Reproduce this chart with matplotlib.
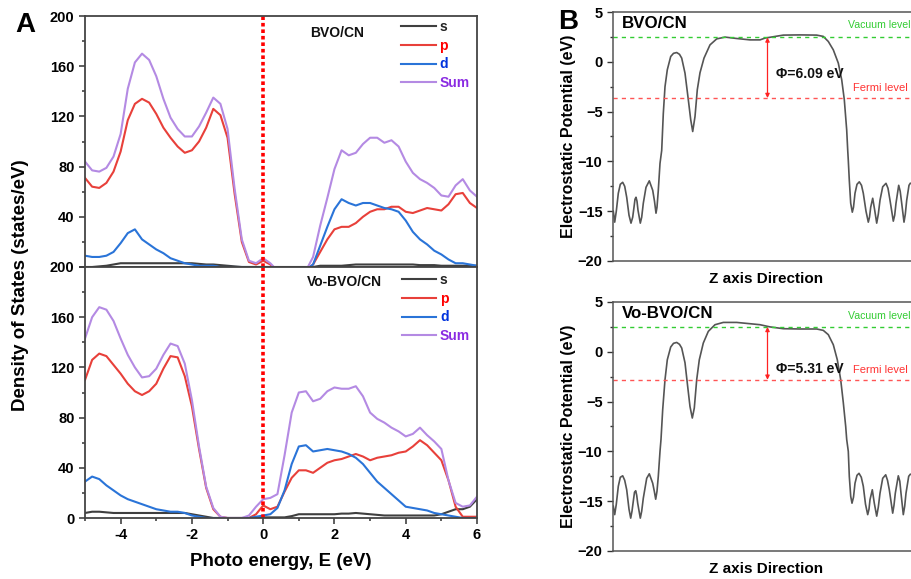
import matplotlib
matplotlib.use("Agg")
import matplotlib.pyplot as plt
from matplotlib.ticker import MultipleLocator, NullLocator

plt.rcParams['font.family'] = ['Liberation Sans', 'DejaVu Sans']
plt.rcParams['lines.solid_joinstyle'] = 'round'

# ---------------- Panel A data (DOS) ----------------
energy = [-5.0, -4.8, -4.6, -4.4, -4.2, -4.0, -3.8, -3.6, -3.4, -3.2, -3.0, -2.8, -2.6, -2.4,
          -2.2, -2.0, -1.8, -1.6, -1.4, -1.2, -1.0, -0.8, -0.6, -0.4, -0.2, 0.0, 0.2, 0.4,
          0.6, 0.8, 1.0, 1.2, 1.4, 1.6, 1.8, 2.0, 2.2, 2.4, 2.6, 2.8, 3.0, 3.2, 3.4, 3.6,
          3.8, 4.0, 4.2, 4.4, 4.6, 4.8, 5.0, 5.2, 5.4, 5.6, 5.8, 6.0]

bvo_s = [0, 0, 0.5, 1, 2, 3, 3, 3, 3, 3, 3, 3, 3, 3, 3, 3, 2.5, 2, 2, 1.5, 1, 0.5, 0, 0, 0, 0, 0, 0,
         0, 0, 0, 0, 0, 1, 1, 1, 1, 1.5, 2, 2, 2, 2, 2, 2, 2, 2, 2, 1.5, 1.5, 1.5, 1, 1, 1, 1, 1, 1]
bvo_p = [71, 64, 63, 67, 76, 92, 117, 130, 134, 131, 122, 111, 103, 96, 91, 93, 100, 111, 126, 121,
         103, 58, 20, 4, 2, 5, 2, -3, -5, -5, -5, -3, 2, 12, 22, 30, 32, 32, 35, 40, 44, 46, 46, 48,
         48, 44, 43, 45, 47, 46, 45, 50, 58, 59, 51, 47]
bvo_d = [9, 8, 8, 9, 12, 19, 27, 30, 22, 18, 14, 11, 7, 5, 3, 2, 1, 1, 1, 0, 0, 0, 0, 0, 0, 0, 0, -2,
         -3, -3, -3, -2, 2, 17, 32, 46, 54, 51, 49, 51, 51, 49, 47, 46, 44, 37, 28, 22, 18, 13, 10, 6,
         3, 3, 2, 1]
bvo_sum = [84, 77, 76, 79, 88, 106, 142, 163, 170, 165, 152, 134, 119, 110, 104, 104, 112, 123, 135,
           130, 110, 62, 22, 5, 3, 7, 3, -3, -5, -5, -5, -3, 8, 33, 55, 78, 93, 89, 91, 98, 103, 103,
           99, 101, 96, 84, 75, 70, 67, 63, 57, 56, 65, 70, 61, 56]

vo_s = [4, 5, 5, 4.5, 4, 4, 4, 4, 4, 4, 4, 4, 4, 4, 4, 3, 2, 1, 0, 0, 0, 0, 0, 0, 0, 0.5, 0.5, 0.5,
        0.5, 1.5, 3, 3, 3, 3, 3, 3, 3.5, 3.5, 4, 3.5, 3, 2.5, 2, 2, 2, 2, 2, 2, 2, 2, 3, 5, 7, 7, 9, 15]
vo_p = [110, 126, 131, 129, 122, 115, 107, 101, 98, 101, 107, 119, 129, 128, 113, 89, 55, 24, 7, 1,
        0, 0, 0, 0, 3, 10, 7, 9, 21, 32, 38, 38, 36, 40, 44, 46, 47, 49, 51, 49, 46, 48, 49, 50, 52,
        53, 57, 62, 58, 52, 46, 30, 9, 1, 1, 1]
vo_d = [29, 33, 31, 26, 22, 18, 15, 13, 11, 9, 7, 6, 5, 5, 4, 2, 1, 0, 0, 0, 0, 0, 0, 0, 1, 2, 3, 8,
        22, 43, 57, 58, 53, 54, 55, 54, 53, 51, 48, 43, 36, 29, 24, 19, 14, 9, 8, 7, 6, 4, 3, 2, 1,
        0, 0, 0]
vo_sum = [143, 160, 168, 166, 157, 143, 130, 120, 112, 113, 119, 130, 139, 137, 123, 94, 57, 25, 8,
          1, 0, 0, 0, 2, 9, 15, 16, 19, 50, 84, 100, 101, 93, 95, 101, 104, 103, 103, 105, 97, 84,
          79, 76, 72, 69, 65, 67, 72, 66, 61, 55, 30, 12, 9, 10, 17]

orbital_labels = ['s', 'p', 'd', 'Sum']
line_colors = ['#3f3f3f', '#e8403a', '#2a74d8', '#b48ae3']
label_colors = ['#222222', '#ff0000', '#0033dd', '#8a2be2']
a_titles = ['BVO/CN', 'Vo-BVO/CN']

# ---------------- Panel B data (electrostatic potential) ----------------
z_bvo = [0.3, 1.7, 3.3, 5.3, 7.3, 9.7, 11.7, 13.7, 16, 18, 19.7, 21, 22, 23, 24, 25, 27.3, 28.7,
         30.3, 33, 36.3, 39.7, 41.5, 43, 44, 45.3, 47, 48.7, 50.3, 52, 54.3, 57.7, 60.5, 63.7, 66.5,
         68.7, 72, 75.3, 77.7, 79.7, 82, 84.3, 87, 91, 97, 103.7, 112, 123.7, 137, 147, 152, 170.3,
         187, 203.7, 210.3, 215.3, 220.3, 225.3, 228.7, 231.3, 233.7, 234.7, 235.3, 236.3, 237.7,
         239.3, 240.5, 242, 244, 246.3, 248.5, 250.3, 253, 255.3, 256.5, 257.7, 259.7, 261.7, 263.7,
         265.3, 267, 269.7, 273, 275, 277, 280.3, 281.7, 283, 285.7, 287.2, 288.7, 291, 292.3,
         293.7, 296, 297.3]
v_bvo = [-15.0, -16.1, -15.0, -13.2, -12.3, -12.1, -12.5, -13.6, -15.4, -16.2, -15.6, -14.6, -13.8,
         -13.6, -14.0, -14.9, -16.2, -15.6, -14.2, -12.6, -11.95, -12.9, -14.0, -15.2, -14.6, -12.9,
         -10.2, -8.9, -5.2, -2.5, -0.8, 0.53, 0.85, 0.93, 0.75, 0.37, -1.14, -3.8, -5.8, -7.0, -5.5,
         -2.8, -1.1, 0.37, 1.7, 2.3, 2.48, 2.34, 2.2, 2.2, 2.38, 2.68, 2.7, 2.68, 2.55, 2.04, 1.2,
         -0.13, -1.8, -3.8, -6.85, -8.85, -9.9, -11.9, -14.2, -15.1, -14.6, -13.2, -12.3, -12.05,
         -12.4, -13.2, -15.0, -16.1, -15.6, -14.6, -13.7, -14.9, -16.2, -15.3, -13.9, -12.55, -12.2,
         -12.7, -13.9, -16.0, -15.4, -14.2, -12.4, -13.0, -14.2, -16.1, -15.3, -13.9, -12.4, -12.2]

z_vo = [0.3, 1.7, 3.3, 5.3, 7.3, 9.7, 11.7, 13.7, 16, 17.7, 19, 20.3, 21.5, 22.7, 23.7, 24.7, 27.3,
        28.7, 30.3, 33.7, 36.3, 39.7, 41.3, 42.7, 44, 45.3, 47, 48, 49.7, 52, 54.3, 57.7, 60.5, 63.7,
        66.5, 68.7, 72, 74.7, 77, 79.3, 81.3, 83.7, 86.3, 90.3, 95.3, 102, 110.3, 123.7, 137, 147,
        157, 170.3, 187, 203.7, 210.3, 215.3, 220.3, 224.3, 227.7, 230.3, 232.7, 233.7, 235.3,
        236.3, 237.7, 239, 240.5, 242, 244, 246, 248.3, 250.3, 252.5, 254.7, 256, 257, 259.3,
        261.3, 263.7, 265.3, 267, 269.7, 272.7, 274.5, 276.3, 279.7, 281, 282.3, 285.3, 286.8, 288,
        290.3, 291.7, 293, 295.7, 297.3]
v_vo = [-15.5, -16.35, -15.3, -13.5, -12.6, -12.45, -12.9, -13.85, -15.8, -16.7, -16.0, -15.0,
        -14.1, -13.95, -14.4, -15.2, -16.7, -16.0, -14.7, -12.7, -12.25, -13.2, -14.0, -14.8, -14.0,
        -12.5, -10.0, -8.8, -5.8, -2.8, -0.8, 0.48, 0.85, 0.94, 0.75, 0.38, -1.1, -3.5, -5.5, -6.65,
        -5.65, -2.8, -0.8, 0.88, 2.05, 2.72, 2.95, 2.95, 2.82, 2.72, 2.5, 2.32, 2.29, 2.29, 2.15,
        1.72, 0.71, -0.8, -2.8, -5.1, -7.5, -8.8, -10.0, -12.5, -14.5, -15.2, -14.6, -13.2, -12.4,
        -12.2, -12.6, -13.5, -15.3, -16.35, -15.8, -14.85, -13.85, -15.2, -16.5, -15.6, -14.2,
        -12.7, -12.35, -12.9, -13.85, -16.2, -15.4, -14.2, -12.45, -13.0, -14.2, -16.35, -15.5,
        -14.2, -12.5, -12.3]

b_titles = ['BVO/CN', 'Vo-BVO/CN']
vacuum_levels = [2.45, 2.50]
fermi_levels = [-3.64, -2.81]
phi_labels = ['\u03a6=6.09 eV', '\u03a6=5.31 eV']

# ---------------- Figure ----------------
W, H = 911, 579
fig = plt.figure(figsize=(W / 100, H / 100), dpi=100)


def rect(x0, y0, x1, y1):
    return [x0 / W, 1 - y1 / H, (x1 - x0) / W, (y1 - y0) / H]


axA_top = fig.add_axes(rect(85, 16, 477, 267))
axA_bot = fig.add_axes(rect(85, 267, 477, 518))

dos_sets = [(bvo_s, bvo_p, bvo_d, bvo_sum), (vo_s, vo_p, vo_d, vo_sum)]
title_pos = [(0.644, 0.933), (0.662, 0.941)]
leg_pos = [(0.806, 0.985), (0.808, 0.977)]
for i, (ax, series) in enumerate(zip([axA_top, axA_bot], dos_sets)):
    handles = []
    for vals, lab, col in zip(series, orbital_labels, line_colors):
        h, = ax.plot(energy, vals, color=col, lw=1.5, label=lab)
        handles.append(h)
    ax.axvline(0, color='#ff0000', lw=2.6, ls=(0, (1, 0.8)))
    ax.set_xlim(-5, 6)
    ax.set_ylim(0, 200)
    ax.yaxis.set_major_locator(MultipleLocator(40))
    ax.yaxis.set_minor_locator(MultipleLocator(20))
    ax.xaxis.set_major_locator(MultipleLocator(2))
    ax.xaxis.set_minor_locator(MultipleLocator(1))
    ax.tick_params(which='both', direction='out', width=1.1, colors='#333333',
                   labelcolor='black', labelsize=10.5)
    ax.tick_params(which='major', length=4)
    ax.tick_params(which='minor', length=2.5)
    for sp in ax.spines.values():
        sp.set_linewidth(1.3)
        sp.set_color('#444444')
    ax.text(*title_pos[i], a_titles[i], transform=ax.transAxes, ha='center', va='center',
            fontsize=10, fontweight='bold', color='#111111')
    ax.legend(handles=handles, loc='upper left', bbox_to_anchor=leg_pos[i],
              frameon=False, borderpad=0, borderaxespad=0, handlelength=2.5,
              handletextpad=0.25, labelspacing=0.35,
              prop={'weight': 'bold', 'size': 10}, labelcolor=label_colors)

axA_top.tick_params(axis='x', which='both', bottom=False, labelbottom=False)
axA_top.set_yticks([0, 40, 80, 120, 160, 200])
axA_top.set_yticklabels(['', '40', '80', '120', '160', '200'], fontweight='bold')
axA_bot.set_yticks([0, 40, 80, 120, 160, 200])
axA_bot.set_yticklabels(['0', '40', '80', '120', '160', '200'], fontweight='bold')
axA_bot.set_xticks([-4, -2, 0, 2, 4, 6])
axA_bot.set_xticklabels(['-4', '-2', '0', '2', '4', '6'], fontweight='bold')

fig.text(21 / W, 1 - 285 / H, 'Density of States (states/eV)', rotation=90, ha='center',
         va='center', fontsize=13.5, fontweight='bold')
fig.text(281 / W, 1 - 562 / H, 'Photo energy, E (eV)', ha='center', va='center',
         fontsize=13.5, fontweight='bold')
fig.text(25 / W, 1 - 25 / H, 'A', ha='center', va='center', fontsize=20, fontweight='bold')
fig.text(568 / W, 1 - 22 / H, 'B', ha='center', va='center', fontsize=20, fontweight='bold')

# Panel B
axB_top = fig.add_axes(rect(613, 12, 919, 261))
axB_bot = fig.add_axes(rect(613, 302, 919, 551))
pot_sets = [(z_bvo, v_bvo), (z_vo, v_vo)]
phi_y = [-1.24, -1.7]
fermi_txt_y = [-2.6, -1.85]
vac_txt_y = [3.65, 3.55]
for i, (ax, (zz, vv)) in enumerate(zip([axB_top, axB_bot], pot_sets)):
    ax.plot(zz, vv, color='#555555', lw=1.2)
    ax.set_xlim(0, 306)
    ax.set_ylim(-20, 5)
    ax.axhline(vacuum_levels[i], color='#33cc33', lw=1.0, ls=(0, (3, 3)))
    ax.axhline(fermi_levels[i], color='#ff5555', lw=1.0, ls=(0, (3, 3)))
    ax.annotate('', xy=(154.5, vacuum_levels[i]), xytext=(154.5, fermi_levels[i]),
                arrowprops=dict(arrowstyle='<|-|>', color='#ff2222', lw=0.9,
                                mutation_scale=6, shrinkA=0, shrinkB=0))
    ax.text(162.5, phi_y[i], phi_labels[i], ha='left', va='center', fontsize=10,
            fontweight='bold', color='#111111')
    ax.text(240, fermi_txt_y[i], 'Fermi level', ha='left', va='center', fontsize=8,
            color='#ff3333')
    ax.text(235, vac_txt_y[i], 'Vacuum level', ha='left', va='center', fontsize=7.6,
            color='#33cc33')
    ax.text(0.03, 0.955, b_titles[i], transform=ax.transAxes, ha='left', va='center',
            fontsize=12.2, fontweight='bold')
    ax.yaxis.set_major_locator(MultipleLocator(5))
    ax.yaxis.set_minor_locator(MultipleLocator(2.5))
    ax.xaxis.set_major_locator(NullLocator())
    ax.tick_params(which='both', direction='out', width=1.0, colors='#333333',
                   labelcolor='black', labelsize=10.5)
    ax.tick_params(which='major', length=4)
    ax.tick_params(which='minor', length=2.5)
    for lbl in ax.get_yticklabels():
        lbl.set_fontweight('bold')
    for sp in ax.spines.values():
        sp.set_linewidth(1.1)
        sp.set_color('#555555')
    ax.set_ylabel('Electrostatic Potential (eV)', fontsize=11.5, fontweight='bold')
    ax.yaxis.set_label_coords(-0.122, 0.5)
    ax.set_xlabel('Z axis Direction', fontsize=11, fontweight='bold', labelpad=8)

fig.savefig('out.png', dpi=100)
